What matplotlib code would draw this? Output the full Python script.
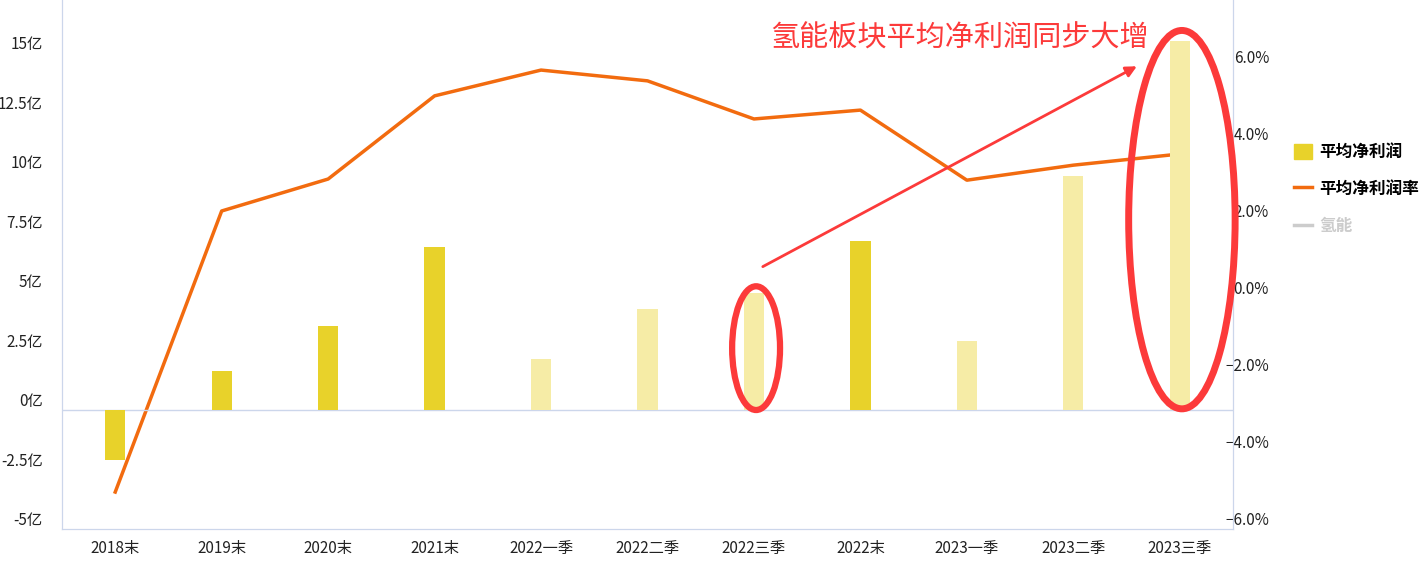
import matplotlib.pyplot as plt
from matplotlib.patches import Ellipse, Patch
from matplotlib.lines import Line2D

plt.rcParams['font.family'] = ['Noto Sans CJK SC', 'DejaVu Sans']

periods = ['2018末', '2019末', '2020末', '2021末', '2022一季', '2022二季',
           '2022三季', '2022末', '2023一季', '2023二季', '2023三季']
profit = [-2.1, 1.64, 3.53, 6.85, 2.14, 4.24, 4.9, 7.1, 2.9, 9.83, 15.5]   # 亿
margin = [-5.04, 2.26, 3.09, 5.25, 5.92, 5.64, 4.65, 4.88, 3.06, 3.45, 3.74]  # %
quarterly = [False, False, False, False, True, True, True, False, True, True, True]
left_ticks = [-5, -2.5, 0, 2.5, 5, 7.5, 10, 12.5, 15]
right_ticks = [-6, -4, -2, 0, 2, 4, 6]

dark = '#e8d22a'
light = '#f6eca6'
orange = '#f26b0f'
axis_c = '#ccd6eb'
red = '#fc3a3a'

fig = plt.figure(figsize=(14.23, 5.67), dpi=100)
ax = fig.add_axes([62 / 1423, 38 / 567, (1233 - 62) / 1423, 529 / 567])
x = list(range(len(periods)))
bars = ax.bar(x, profit, width=0.19, color=[light if q else dark for q in quarterly],
              zorder=2)
ax.set_xlim(-0.5, 10.5)
ax.set_ylim(-5, 17.23)
ax.axhline(0, color=axis_c, lw=1, zorder=1)
ax.set_yticks(left_ticks)
ax.set_yticklabels([f'{t:g}亿' for t in left_ticks])
ax.set_xticks(x)
ax.set_xticklabels(periods)
ax.tick_params(length=0, labelsize=11, colors='#222222')
ax.tick_params(axis='x', pad=8)
ax.tick_params(axis='y', pad=14)
for lab in ax.get_yticklabels():
    lab.set_va('bottom')

ax2 = ax.twinx()
line, = ax2.plot(x, margin, color=orange, lw=2.5, zorder=3)
ax2.set_ylim(-6, 7.74)
ax2.set_yticks(right_ticks)
ax2.set_yticklabels([f'{t:.1f}%'.replace('-', '−') for t in right_ticks])
ax2.tick_params(length=0, labelsize=11, colors='#222222', pad=26)
for lab in ax2.get_yticklabels():
    lab.set_ha('right')
    lab.set_va('bottom')

for a in (ax, ax2):
    a.spines['top'].set_visible(False)
    for s in ('left', 'right', 'bottom'):
        a.spines[s].set_color(axis_c)
ax.set_zorder(ax2.get_zorder() + 1)
ax.patch.set_visible(False)

# annotations
ax.add_patch(Ellipse((6.02, 2.6), 0.45, 5.2, fill=False, ec=red, lw=4.5, zorder=5))
ax.add_patch(Ellipse((10.02, 8.0), 1.0, 15.9, fill=False, ec=red, lw=5, zorder=5,
                     clip_on=False))
ax.annotate('', xy=(9.62, 14.5), xytext=(6.06, 5.97),
            arrowprops=dict(arrowstyle='-|>', color=red, lw=2, mutation_scale=16))
ax.text(7.93, 15.6, '氢能板块平均净利润同步大增', color=red, fontsize=21,
        ha='center', va='center', zorder=6)

handles = [Patch(color=dark), Line2D([], [], color=orange, lw=2.5),
           Line2D([], [], color='#cccccc', lw=2.5)]
leg = fig.legend(handles, ['平均净利润', '平均净利润率', '氢能'],
                 loc='upper left', bbox_to_anchor=(1279 / 1423, 1 - 128 / 567),
                 frameon=False, handlelength=1.05, handleheight=1.05,
                 handletextpad=0.45, labelspacing=1.15,
                 prop={'weight': 'bold', 'size': 12})
leg.get_texts()[2].set_color('#cccccc')

fig.savefig('out.png', dpi=100)
